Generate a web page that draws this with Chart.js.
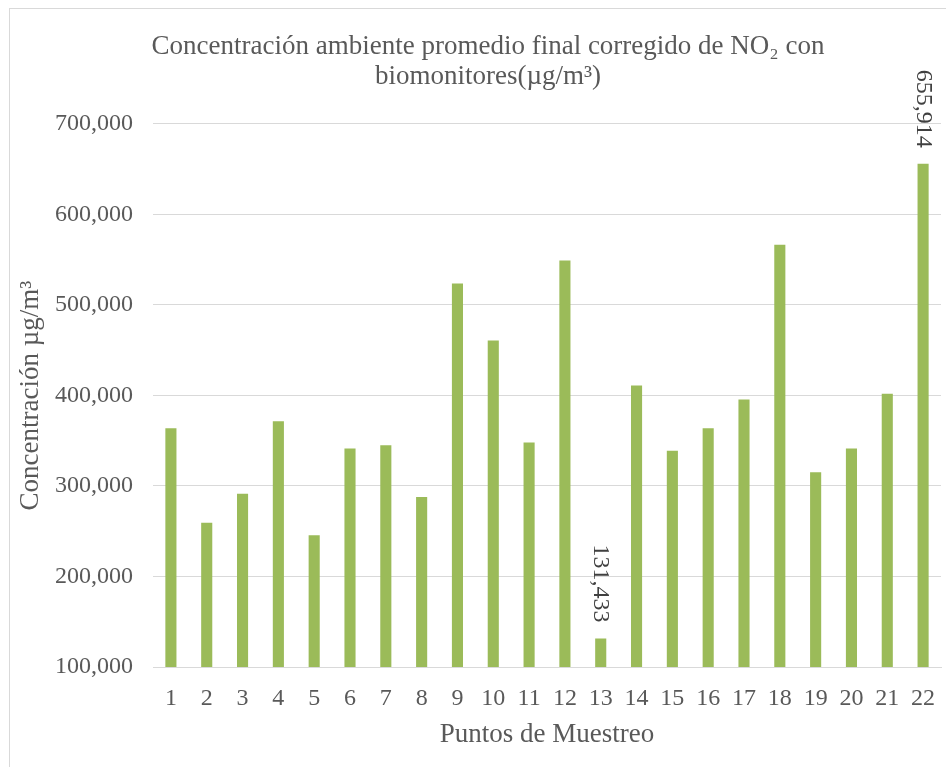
<!DOCTYPE html>
<html>
<head>
<meta charset="utf-8">
<script src="https://cdn.jsdelivr.net/npm/chart.js@4"></script>
<style>
body{margin:0;background:#fff}
#wrap{width:946px;height:767px}
</style>
</head>
<body>
<div id="wrap"><canvas id="myChart"></canvas></div>
<script>
// valores (µg/m3, coma decimal)
const puntos = ['1','2','3','4','5','6','7','8','9','10','11','12','13','14','15','16','17','18','19','20','21','22']
const concentracion = [363.8, 259.5, 291.3, 371.5, 245.5, 341.3, 345.0, 287.9, 523.8, 460.8, 348.0, 549.2,
                       131.433, 411.0, 338.8, 363.8, 395.5, 566.6, 315.1, 341.3, 401.8, 655.914]
const conEtiqueta = [12, 21]   // puntos 13 y 22
const yMin = 100, yMax = 700, yPaso = 100

const serif = '"Liberation Serif", "Times New Roman", serif'
const gris = '#595959'
const fmt = v => v.toFixed(3).replace('.', ',')

// marco gris alrededor del grafico
const marco = {
    id:'marco',
    beforeDraw(chart){
        const ctx = chart.ctx
        ctx.save()
        ctx.strokeStyle = '#d9d9d9'
        ctx.lineWidth = 1
        ctx.strokeRect(9.5, 8.5, 1000, 1000)
        ctx.restore()
    }
}

// etiquetas de datos giradas sobre algunas barras
const etiquetas = {
    id:'etiquetas',
    afterDatasetsDraw(chart){
        const ctx = chart.ctx
        const meta = chart.getDatasetMeta(0)
        ctx.save()
        ctx.font = '24px ' + serif
        ctx.fillStyle = '#404040'
        ctx.textAlign = 'right'
        ctx.textBaseline = 'middle'
        conEtiqueta.forEach(i => {
            const bar = meta.data[i]
            ctx.save()
            ctx.translate(bar.x, bar.y - 16)
            ctx.rotate(Math.PI / 2)
            ctx.fillText(fmt(concentracion[i]), 0, 0)
            ctx.restore()
        })
        ctx.restore()
    }
}

const config = {
    type:'bar',
    data:{
        labels: puntos,
        datasets:[{
            data: concentracion,
            backgroundColor:'#9BBB59',
            barPercentage:0.31,
            categoryPercentage:1
        }]
    },
    options:{
        responsive:true,
        maintainAspectRatio:false,
        animation:false,
        layout:{padding:{left:35,right:5,top:0,bottom:0}},
        plugins:{
            legend:{display:false},
            tooltip:{enabled:false},
            title:{
                display:true,
                text:['Concentración ambiente promedio final corregido de NO₂ con','biomonitores(µg/m³)'],
                color:gris,
                font:{family:serif,size:27,weight:'normal',lineHeight:1.11},
                padding:{top:32,bottom:32}
            }
        },
        scales:{
            x:{
                grid:{display:false},
                border:{display:true,color:'#d9d9d9'},
                ticks:{color:gris,font:{family:serif,size:24},padding:9,maxRotation:0,autoSkip:false},
                title:{display:true,text:'Puntos de Muestreo',color:gris,font:{family:serif,size:27},padding:{top:0,bottom:16}},
                afterFit(s){ s.height = 100 }
            },
            y:{
                min:yMin,
                max:yMax,
                grid:{color:'#d9d9d9',drawTicks:false},
                border:{display:false},
                ticks:{stepSize:yPaso,color:gris,font:{family:serif,size:24},padding:20,callback:v => fmt(v)},
                title:{display:true,text:'Concentración µg/m³',color:gris,font:{family:serif,size:27},padding:{top:-20,bottom:0}},
                afterFit(s){ s.width = 118 }
            }
        }
    },
    plugins:[marco, etiquetas]
}

const chart = new Chart(document.getElementById('myChart'), config)
</script>
</body>
</html>
